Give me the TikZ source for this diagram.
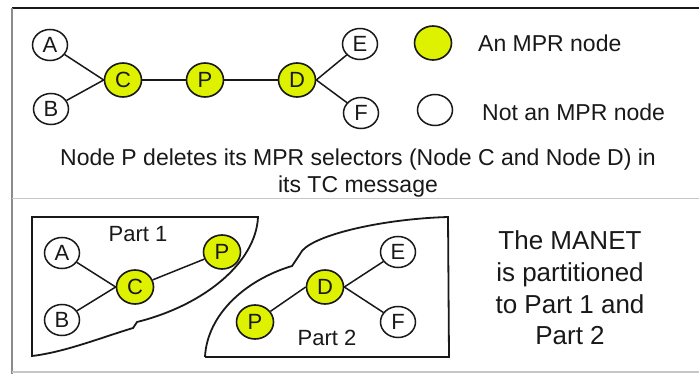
\documentclass[tikz,border=0pt]{standalone}
\usepackage{fontspec}
\setmainfont{Liberation Sans}
\usetikzlibrary{shapes.geometric}
\definecolor{mprY}{RGB}{222,242,0}
\definecolor{ink}{RGB}{25,25,25}
\begin{document}
\begin{tikzpicture}[x=1pt,y=-1pt,
  mpr/.style={ellipse,draw=ink,line width=1.6pt,fill=mprY,minimum width=37pt,minimum height=34pt,inner sep=0pt,font=\fontsize{22}{22}\selectfont,text=ink},
  nmpr/.style={ellipse,draw=ink,line width=1.5pt,fill=white,minimum width=35pt,minimum height=31pt,inner sep=0pt,font=\fontsize{22}{22}\selectfont,text=ink},
  link/.style={line width=1.5pt,draw=ink},
  region/.style={draw=ink,line width=1.8pt},
  txt/.style={font=\fontsize{23}{27}\selectfont,text=ink,inner sep=0pt},
  ptxt/.style={font=\fontsize{22}{22}\selectfont,text=ink,inner sep=0pt},
  rtxt/.style={font=\fontsize{26}{31.7}\selectfont,text=ink,inner sep=0pt}
]
\useasboundingbox (0,0) rectangle (699,374);
\fill[white] (0,0) rectangle (699,374);
% frame
\draw[line width=1.6pt,ink] (12,8) -- (699,8);
\draw[line width=1.2pt,black!45] (12,8) -- (12,374);
\draw[line width=1.2pt,black!22] (12,198.5) -- (699,198.5);
\draw[line width=1.2pt,black!22] (12,372) -- (699,372);

% top network
\node[nmpr] (tA) at (50,45) {A};
\node[nmpr] (tB) at (51,109) {B};
\node[mpr] (tC) at (123,80) {C};
\node[mpr] (tP) at (205,80) {P};
\node[mpr] (tD) at (297,80) {D};
\node[nmpr] (tE) at (360,44) {E};
\node[nmpr] (tF) at (361,113) {F};
\draw[link] (tA) -- (tC.west);
\draw[link] (tB) -- (tC.west);
\draw[link] (tC) -- (tP);
\draw[link] (tP) -- (tD);
\draw[link] (tD.east) -- (tE);
\draw[link] (tD.east) -- (tF);

% legend
\node[mpr] (lY) at (433,43) {};
\node[nmpr] (lW) at (435,110) {};
\node[txt,anchor=west] (lYt) at (478,43) {An MPR node};
\node[txt,anchor=west] (lWt) at (482,112) {Not an MPR node};

% caption
\node[txt,align=center] (cap) at (358,173.5) {Node P deletes its MPR selectors (Node C and Node D) in\\its TC message};

% partitions
\draw[region] (32,217) -- (258,217) .. controls (256,262) and (205,305) .. (137,322)
  -- (133,328) .. controls (100,338) and (65,352) .. (32,356) -- cycle;
\draw[region] (205,357) -- (449,357) -- (448,217) .. controls (380,219) and (308,236) .. (300,254)
  -- (292,266) .. controls (245,280) and (207,315) .. (205,357);

% bottom network
\node[nmpr] (bA) at (62,253) {A};
\node[nmpr] (bB) at (62,320) {B};
\node[mpr] (bC) at (135,287) {C};
\node[mpr] (bP1) at (222,252) {P};
\node[mpr] (bP2) at (255,322) {P};
\node[mpr] (bD) at (325,287) {D};
\node[nmpr] (bE) at (398,252) {E};
\node[nmpr] (bF) at (398,322) {F};
\draw[link] (bA) -- (bC.west);
\draw[link] (bB) -- (bC.west);
\draw[link] (bC) -- (bP1);
\draw[link] (bP2) -- (bD.west);
\draw[link] (bD.east) -- (bE);
\draw[link] (bD.east) -- (bF);
\node[ptxt] (p1) at (138,234) {Part 1};
\node[ptxt] (p2) at (327,338) {Part 2};

% right text
\node[rtxt,align=center] (rt) at (570,288) {The MANET\\is partitioned\\to Part 1 and\\Part 2};
\end{tikzpicture}
\end{document}
